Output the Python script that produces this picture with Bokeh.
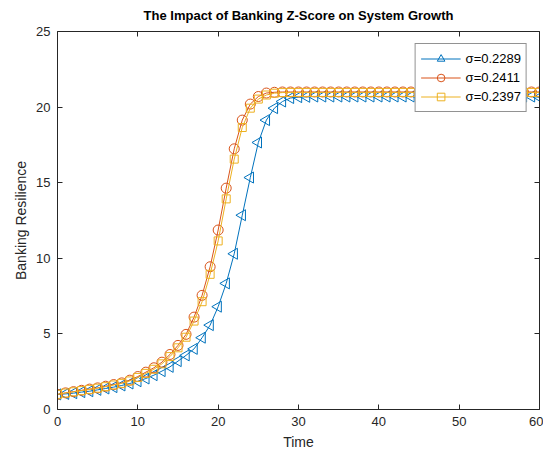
import numpy as np
from bokeh.plotting import figure
from bokeh.models import (LinearAxis, Range1d, Legend, LegendItem, FixedTicker,
                          CustomLabelingPolicy)
from bokeh.embed import file_html
from bokeh.resources import INLINE

time = list(range(0, 61))
blue_vals = [1.00, 1.03, 1.08, 1.15, 1.21, 1.30, 1.39, 1.48, 1.59, 1.72,
             1.87, 2.05, 2.27, 2.54, 2.82, 3.20, 3.58, 4.01, 4.75, 5.58,
             6.80, 8.34, 10.30, 12.85, 15.34, 17.66, 19.14, 19.93, 20.37, 20.60,
             20.66, 20.68, 20.70, 20.70, 20.70, 20.70, 20.70, 20.70, 20.70, 20.70,
             20.70, 20.70, 20.70, 20.70, 20.70, 20.70, 20.70, 20.70, 20.70, 20.70,
             20.70, 20.70, 20.70, 20.70, 20.70, 20.70, 20.70, 20.70, 20.70, 20.70,
             20.65]
orange_vals = [1.00, 1.10, 1.18, 1.27, 1.35, 1.43, 1.54, 1.65, 1.76, 1.94,
               2.18, 2.47, 2.76, 3.13, 3.64, 4.24, 4.97, 6.11, 7.55, 9.44,
               11.87, 14.64, 17.24, 19.14, 20.20, 20.70, 20.93, 20.98, 21.00, 21.00,
               21.00, 21.00, 21.00, 21.00, 21.00, 21.00, 21.00, 21.00, 21.00, 21.00,
               21.00, 21.00, 21.00, 21.00, 21.00, 21.00, 21.00, 21.00, 21.00, 21.00,
               21.00, 21.00, 21.00, 21.00, 21.00, 21.00, 21.00, 21.00, 21.00, 21.00,
               21.00]
yellow_vals = [1.00, 1.09, 1.17, 1.25, 1.33, 1.41, 1.51, 1.62, 1.73, 1.89,
               2.12, 2.39, 2.66, 3.02, 3.50, 4.08, 4.78, 5.85, 7.13, 8.94,
               11.15, 13.93, 16.56, 18.65, 19.93, 20.53, 20.80, 20.92, 20.96, 20.97,
               20.97, 20.97, 20.97, 20.97, 20.97, 20.97, 20.97, 20.97, 20.97, 20.97,
               20.97, 20.97, 20.97, 20.97, 20.97, 20.97, 20.97, 20.97, 20.97, 20.97,
               20.97, 20.97, 20.97, 20.97, 20.97, 20.97, 20.97, 20.97, 20.97, 20.97,
               20.97]
labels = ["\u03c3=0.2289", "\u03c3=0.2411", "\u03c3=0.2397"]
x_ticks = [0, 10, 20, 30, 40, 50, 60]
y_ticks = [0, 5, 10, 15, 20, 25]

FONT = "Liberation Sans"
AX = "#262626"

p = figure(frame_width=482, frame_height=378, output_backend="svg",
           toolbar_location=None,
           x_range=Range1d(0, 60), y_range=Range1d(0, 25),
           min_border_left=57, min_border_right=4, min_border_top=28,
           min_border_bottom=36, outline_line_color=None)
p.title.text = "The Impact of Banking Z-Score on System Growth"
p.title.text_font = FONT
p.title.text_font_size = "13px"
p.title.text_font_style = "bold"
p.title.align = "center"
p.title.text_color = "black"
p.title.offset = 0
p.grid.visible = False

c_blue, c_orange, c_yellow = "#0072BD", "#D95319", "#EDB120"
r1l = p.line(time, blue_vals, line_color=c_blue, line_width=1)
r1m = p.scatter(time, blue_vals, marker="triangle", angle=np.pi / 2, size=11,
                line_color=c_blue, fill_color=None, line_width=1)
r2l = p.line(time, orange_vals, line_color=c_orange, line_width=1)
r2m = p.scatter(time, orange_vals, marker="circle", size=10,
                line_color=c_orange, fill_color=None, line_width=1)
r3l = p.line(time, yellow_vals, line_color=c_yellow, line_width=1)
r3m = p.scatter(time, yellow_vals, marker="square", size=8,
                line_color=c_yellow, fill_color=None, line_width=1)

for ax in [p.xaxis[0], p.yaxis[0]]:
    ax.axis_line_color = AX
    ax.major_tick_line_color = AX
    ax.major_tick_in = 5
    ax.major_tick_out = 0
    ax.minor_tick_line_color = None
    ax.major_label_text_font = FONT
    ax.major_label_text_font_size = "13px"
    ax.major_label_text_color = AX
    ax.axis_label_text_font = FONT
    ax.axis_label_text_font_size = "14px"
    ax.axis_label_text_font_style = "normal"
    ax.axis_label_text_color = AX
p.xaxis[0].ticker = FixedTicker(ticks=x_ticks)
p.yaxis[0].ticker = FixedTicker(ticks=y_ticks)
p.xaxis[0].axis_label = "Time"
p.yaxis[0].axis_label = "Banking Resilience"
p.xaxis[0].major_label_standoff = 7
p.yaxis[0].major_label_standoff = 7
p.xaxis[0].axis_label_standoff = 5
p.yaxis[0].axis_label_standoff = 4

no_labels = CustomLabelingPolicy(code="""
for (const i of Array.from(indices)) indices.unset(i)
return indices
""")
for loc, tk in [("above", x_ticks), ("right", y_ticks)]:
    a = LinearAxis(ticker=FixedTicker(ticks=tk), axis_line_color=AX,
                   major_tick_line_color=AX, major_tick_in=5, major_tick_out=0,
                   minor_tick_line_color=None, major_label_policy=no_labels,
                   major_label_text_font_size="1px", major_label_standoff=0)
    p.add_layout(a, loc)

legend = Legend(items=[
    LegendItem(label=labels[0], renderers=[r1l, r1m]),
    LegendItem(label=labels[1], renderers=[r2l, r2m]),
    LegendItem(label=labels[2], renderers=[r3l, r3m]),
], location="top_right")
legend.label_text_font = FONT
legend.label_text_font_size = "13px"
legend.label_text_color = "black"
legend.border_line_color = AX
legend.border_line_width = 1
legend.background_fill_color = "white"
legend.background_fill_alpha = 1
legend.glyph_width = 40
legend.glyph_height = 19
legend.label_height = 19
legend.spacing = 0
legend.padding = 5
legend.margin = 12
legend.label_standoff = 5
p.add_layout(legend, "center")

open("out.html", "w").write(file_html(p, INLINE))
